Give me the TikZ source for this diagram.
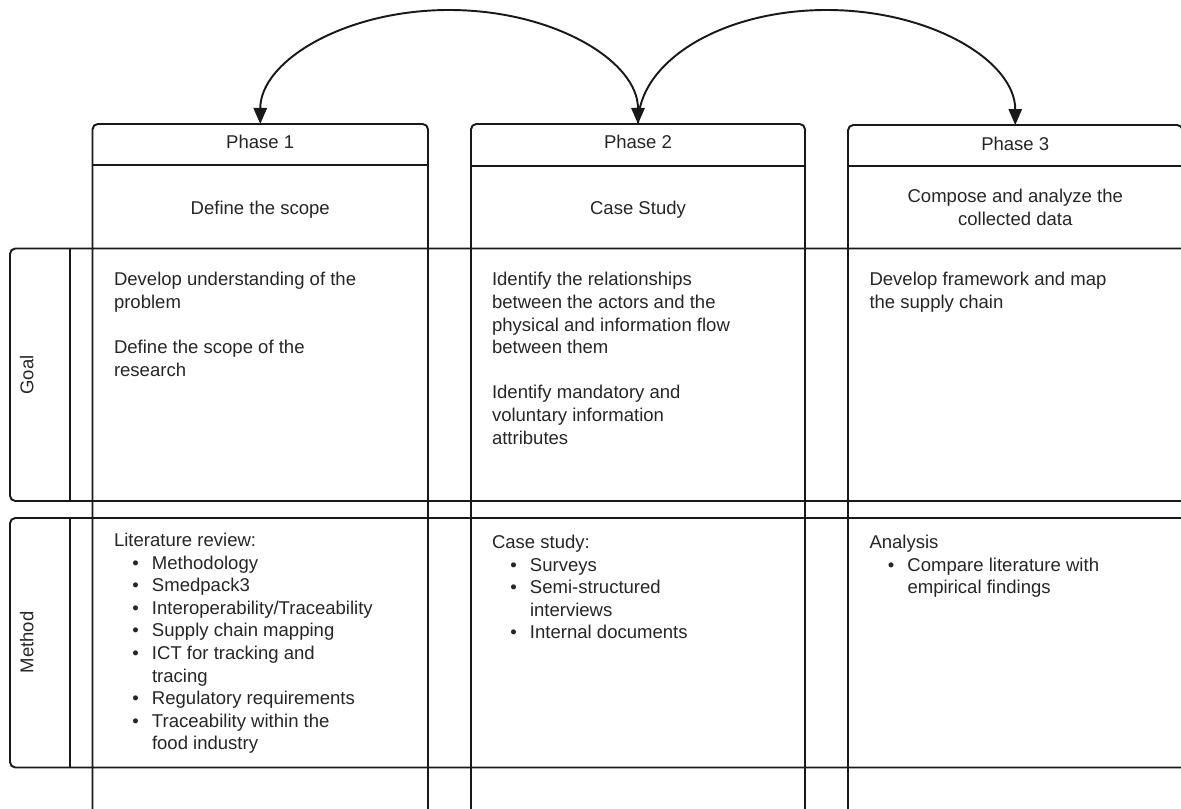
\documentclass[tikz,border=0pt]{standalone}
\usepackage{fontspec}
\setmainfont{Liberation Sans}
\usetikzlibrary{arrows.meta}
\newdimen\pxu \pxu=0.75pt
\newcommand\bitem[1]{\hspace*{18.3\pxu}\makebox[19.7\pxu][l]{•}#1}
\newcommand\bcont[1]{\hspace*{38\pxu}#1}
\newcommand\cellbox[1]{\parbox[t]{320\pxu}{\raggedright #1}}
\newcommand\ctrbox[1]{\parbox[t]{320\pxu}{\centering #1}}
\begin{document}
\begin{tikzpicture}[x=0.75pt,y=-0.75pt]
\tikzset{
  ln/.style={draw=black!90, line width=1.45pt},
  txt/.style={inner sep=0pt, outer sep=0pt, text=black!85, font=\fontsize{13.9pt}{16.95pt}\selectfont},
  hdr/.style={inner sep=0pt, outer sep=0pt, draw=none},
  arrone/.style={draw=black!90, line width=1.45pt, -{Triangle[length=12pt,width=10pt]}},
  arrtwo/.style={draw=black!90, line width=1.45pt, {Triangle[length=12pt,width=10pt]}-{Triangle[length=12pt,width=10pt]}},
}
\useasboundingbox (0,0) rectangle (1181,809);
\begin{scope}
\clip (0,0) rectangle (1181,809);
\fill[white] (0,0) rectangle (1181,809);

% rows
\draw[ln, rounded corners=4pt] (10,248.5) rectangle (1200,501);
\draw[ln] (70,248.5) -- (70,501);
\draw[ln, rounded corners=4pt] (10,518) rectangle (1200,767.5);
\draw[ln] (70,518) -- (70,767.5);

% columns
\draw[ln, rounded corners=4pt] (92.5,812) -- (92.5,124) -- (428,124) -- (428,812);
\draw[ln] (92.5,165) -- (428,165);
\draw[ln, rounded corners=4pt] (471,812) -- (471,124) -- (805,124) -- (805,812);
\draw[ln] (471,166) -- (805,166);
\draw[ln, rounded corners=4pt] (848,812) -- (848,125) -- (1182.5,125) -- (1182.5,812);
\draw[ln] (848,166) -- (1182.5,166);

% header boxes
\node[hdr, minimum width=251.6pt, minimum height=30.75pt] (ph1) at (260.25,144.5) {};
\node[hdr, minimum width=250.5pt, minimum height=30.75pt] (ph2) at (638,144.5) {};
\node[hdr, minimum width=250.9pt, minimum height=31.1pt] (ph3) at (1015.25,145.75) {};

% header texts
\node[txt, anchor=base] (ph1t) at (260.25,148.5) {Phase 1};
\node[txt, anchor=base] (ph2t) at (638,148.7) {Phase 2};
\node[txt, anchor=base] (ph3t) at (1015.25,150.3) {Phase 3};
\node[txt, anchor=base] (sc1) at (260.25,214.3) {Define the scope};
\node[txt, anchor=base] (sc2) at (638,214.3) {Case Study};
\node[txt, anchor=base] (sc3) at (1015.25,202.7) {\ctrbox{Compose and analyze the\\collected data}};

% row labels
\node[txt, rotate=90, anchor=base] (goal) at (33.5,375) {Goal};
\node[txt, rotate=90, anchor=base] (method) at (33.5,642.5) {Method};

% goal texts
\node[txt, anchor=base west] (g1) at (114,286) {\cellbox{Develop understanding of the\\problem\\[16.95pt]Define the scope of the\\research}};
\node[txt, anchor=base west] (g2) at (492,286) {\cellbox{Identify the relationships\\between the actors and the\\physical and information flow\\between them\\[16.95pt]Identify mandatory and\\voluntary information\\attributes}};
\node[txt, anchor=base west] (g3) at (869.5,286) {\cellbox{Develop framework and map\\the supply chain}};

% method texts
\node[txt, anchor=base west] (m1) at (114,546.5) {\cellbox{Literature review:\\\bitem{Methodology}\\\bitem{Smedpack3}\\\bitem{Interoperability/Traceability}\\\bitem{Supply chain mapping}\\\bitem{ICT for tracking and}\\\bcont{tracing}\\\bitem{Regulatory requirements}\\\bitem{Traceability within the}\\\bcont{food industry}}};
\node[txt, anchor=base west] (m2) at (492,548.5) {\cellbox{Case study:\\\bitem{Surveys}\\\bitem{Semi-structured}\\\bcont{interviews}\\\bitem{Internal documents}}};
\node[txt, anchor=base west] (m3) at (869.5,548.5) {\cellbox{Analysis\\\bitem{Compare literature with}\\\bcont{empirical findings}}};

% arcs
\coordinate (top1) at (449.1,10);
\coordinate (top2) at (826.6,10);
\draw[arrtwo] (ph1.north) .. controls +(0,-63) and +(-104.3,0) .. (top1) .. controls +(104.3,0) and +(0,-63) .. (ph2.north);
\draw[arrone] (ph2.north) .. controls +(0,-63) and +(-104.2,0) .. (top2) .. controls +(104.2,0) and +(0,-64) .. (ph3.north);
\end{scope}
\end{tikzpicture}
\end{document}
